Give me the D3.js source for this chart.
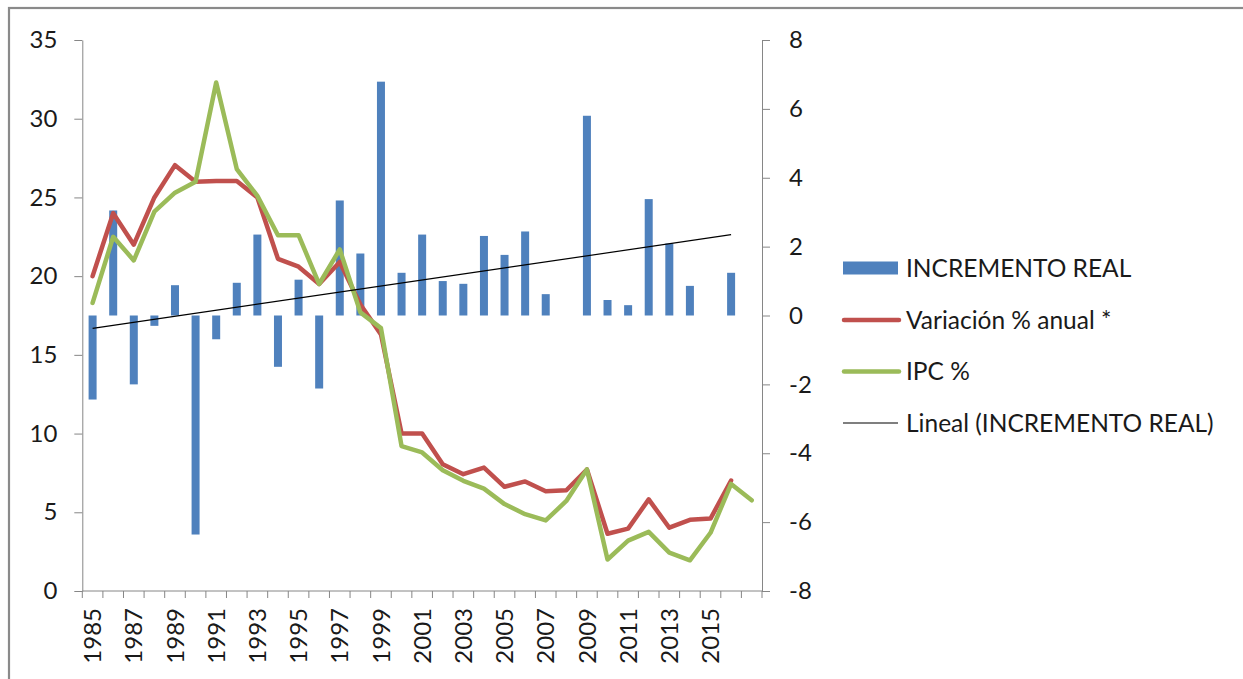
<!DOCTYPE html>
<html>
<head>
<meta charset="utf-8">
<script src="https://cdn.jsdelivr.net/npm/d3@7"></script>
<style>
  html, body { margin: 0; padding: 0; background: #fff; }
  svg { display: block; font-family: Lato, "Open Sans", sans-serif; }
</style>
</head>
<body>
<svg id="chart" width="1243" height="679"></svg>
<script>
// ---- data ----
const years = [1985,1986,1987,1988,1989,1990,1991,1992,1993,1994,1995,1996,1997,1998,1999,2000,
               2001,2002,2003,2004,2005,2006,2007,2008,2009,2010,2011,2012,2013,2014,2015,2016,2017];
const xTickLabels = [1985,1987,1989,1991,1993,1995,1997,1999,2001,2003,2005,2007,2009,2011,2013,2015];
const leftTicks = [0,5,10,15,20,25,30,35];
const rightTicks = [-8,-6,-4,-2,0,2,4,6,8];

// INCREMENTO REAL (right axis)
const incrementoReal = [-2.44, 3.05, -2.0, -0.3, 0.88, -6.36, -0.69, 0.95, 2.35, -1.49, 1.04, -2.12, 3.34, 1.80, 6.79, 1.24,
                        2.35, 1.0, 0.92, 2.31, 1.76, 2.44, 0.62, 0, 5.80, 0.45, 0.30, 3.38, 2.09, 0.86, 0, 1.24, null];
// Variación % anual * (left axis)
const variacion = [20.0, 24.0, 22.0, 25.0, 27.05, 26.0, 26.05, 26.05, 25.0, 21.1, 20.6, 19.5, 20.9, 18.2, 16.3, 10.0,
                   10.0, 8.05, 7.42, 7.84, 6.62, 6.96, 6.34, 6.40, 7.72, 3.64, 3.96, 5.82, 4.02, 4.52, 4.6, 7.02, null];
// IPC % (left axis)
const ipc = [18.3, 22.5, 21.0, 24.1, 25.3, 26.0, 32.3, 26.8, 25.1, 22.6, 22.6, 19.5, 21.7, 17.7, 16.7, 9.2,
             8.8, 7.67, 7.0, 6.5, 5.52, 4.88, 4.48, 5.72, 7.72, 2.0, 3.2, 3.76, 2.44, 1.95, 3.7, 6.8, 5.76];

const legendItems = ["INCREMENTO REAL", "Variación % anual *", "IPC %", "Lineal (INCREMENTO REAL)"];

// ---- layout ----
const W = 1243, H = 679;
const plot = { left: 82.3, right: 762, top: 40, bottom: 591 };
const colors = { bar: "#4F81BD", red: "#C0504D", green: "#9BBB59", axis: "#868686", text: "#1a1a1a" };

const svg = d3.select("#chart");

// outer frame
svg.append("rect").attr("x", 9).attr("y", 8).attr("width", W + 20).attr("height", H + 20)
  .attr("fill", "#fff").attr("stroke", "#8a8a8a").attr("stroke-width", 2.2);

const x = d3.scaleBand().domain(years).range([plot.left, plot.right]).paddingInner(0).paddingOuter(0);
const yL = d3.scaleLinear().domain([0, 35]).range([plot.bottom, plot.top]);
const yR = d3.scaleLinear().domain([-8, 8]).range([plot.bottom, plot.top]);
const cx = d => x(d) + x.bandwidth() / 2;
const fmt = d => String(d);

// left axis
const gL = svg.append("g").attr("transform", `translate(${plot.left},0)`)
  .call(d3.axisLeft(yL).tickValues(leftTicks).tickSize(8).tickSizeOuter(0).tickPadding(17).tickFormat(fmt));
// right axis
const gR = svg.append("g").attr("transform", `translate(${plot.right},0)`)
  .call(d3.axisRight(yR).tickValues(rightTicks).tickSize(8).tickSizeOuter(0).tickPadding(19).tickFormat(fmt));
[gL, gR].forEach(g => {
  g.select(".domain").attr("stroke", colors.axis);
  g.selectAll(".tick line").attr("stroke", colors.axis);
  g.selectAll(".tick text").attr("fill", colors.text).style("font-size", "24px").style("font-family", "Lato, sans-serif");
});

// x axis (category axis with ticks between categories)
const gX = svg.append("g");
gX.append("line").attr("x1", plot.left).attr("x2", plot.right)
  .attr("y1", yL(0)).attr("y2", yL(0)).attr("stroke", colors.axis);
const boundaries = years.map(d => x(d)).concat([x.range()[1]]);
gX.selectAll("line.tk").data(boundaries).join("line").attr("class", "tk")
  .attr("x1", d => d).attr("x2", d => d).attr("y1", yL(0)).attr("y2", yL(0) + 7).attr("stroke", colors.axis);
gX.selectAll("text").data(xTickLabels).join("text")
  .attr("transform", d => `translate(${cx(d)},${yL(0) + 17}) rotate(-90)`)
  .attr("text-anchor", "end").attr("dy", "0.36em")
  .attr("fill", colors.text).style("font-size", "24px")
  .text(d => d);

// bars
const barW = 8;
svg.append("g").selectAll("rect")
  .data(years.map((d, i) => ({ year: d, v: incrementoReal[i] })).filter(d => d.v !== null && d.v !== 0))
  .join("rect")
  .attr("x", d => cx(d.year) - barW / 2)
  .attr("width", barW)
  .attr("y", d => Math.min(yR(0), yR(d.v)))
  .attr("height", d => Math.abs(yR(d.v) - yR(0)))
  .attr("fill", colors.bar);

// lines
const lineL = d3.line().defined(d => d.v !== null).x(d => cx(d.year)).y(d => yL(d.v));
svg.append("path").datum(years.map((d, i) => ({ year: d, v: variacion[i] })))
  .attr("d", lineL).attr("fill", "none").attr("stroke", colors.red)
  .attr("stroke-width", 4.5).attr("stroke-linejoin", "round").attr("stroke-linecap", "round");
svg.append("path").datum(years.map((d, i) => ({ year: d, v: ipc[i] })))
  .attr("d", lineL).attr("fill", "none").attr("stroke", colors.green)
  .attr("stroke-width", 4.5).attr("stroke-linejoin", "round").attr("stroke-linecap", "round");

// linear trendline of INCREMENTO REAL (least squares)
const pts = incrementoReal.map((v, i) => ({ i, v })).filter(d => d.v !== null);
const mx = d3.mean(pts, d => d.i), my = d3.mean(pts, d => d.v);
const slope = d3.sum(pts, d => (d.i - mx) * (d.v - my)) / d3.sum(pts, d => (d.i - mx) ** 2);
const icpt = my - slope * mx;
const i0 = pts[0].i, i1 = pts[pts.length - 1].i;
svg.append("line")
  .attr("x1", cx(years[i0])).attr("y1", yR(icpt + slope * i0))
  .attr("x2", cx(years[i1])).attr("y2", yR(icpt + slope * i1))
  .attr("stroke", "#000").attr("stroke-width", 1.2);

// legend
const legY = [268, 320, 371.5, 423];
const lg = svg.append("g");
legendItems.forEach((name, k) => {
  const y = legY[k];
  if (k === 0) {
    lg.append("rect").attr("x", 843).attr("y", y - 6.5).attr("width", 55).attr("height", 13).attr("fill", colors.bar);
  } else if (k === 1 || k === 2) {
    lg.append("line").attr("x1", 844).attr("x2", 899).attr("y1", y).attr("y2", y)
      .attr("stroke", k === 1 ? colors.red : colors.green).attr("stroke-width", 4.5).attr("stroke-linecap", "round");
  } else {
    lg.append("line").attr("x1", 843).attr("x2", 898).attr("y1", y).attr("y2", y)
      .attr("stroke", "#000").attr("stroke-width", 1.2);
  }
  lg.append("text").attr("x", 906).attr("y", y).attr("dy", "0.36em")
    .attr("fill", colors.text).style("font-size", "24.5px").text(name);
});
</script>
</body>
</html>
